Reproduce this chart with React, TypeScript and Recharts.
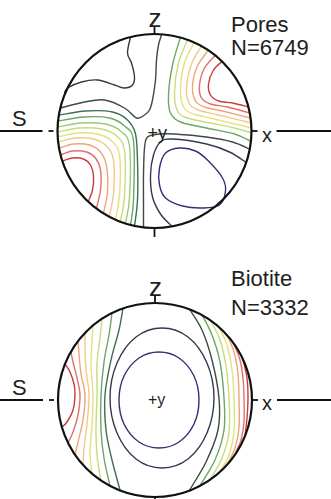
import React from 'react';
import { LineChart, Line, XAxis, YAxis, ReferenceDot, ReferenceLine } from 'recharts';

type Pt = [number, number];

// net coordinates: origin at the centre of each net, y up, primitive circle radius = 97
const NET_R = 97;

// ---- Pores, N=6749 ----
const poresLow: Pt[] = [[11, -22], [25, -17], [41, -20], [54, -30], [68, -47], [71, -60], [65, -74], [48, -77], [28, -75], [11, -67], [5, -54], [5, -37]];
const poresC: Pt[] = [[91, -31], [75, -21], [52, -13], [18, -8], [6, -11], [-1, -24], [-4, -44], [-2, -66], [6, -83], [17, -95]];
const poresD: Pt[] = [[95, -18], [78, -11], [52, -6], [20, -3], [5, -3], [-7, -6], [-10, -17], [-11, -44], [-11, -69], [-11, -96]];
const poresA: Pt[] = [[-24, 94], [-27, 78], [-23, 68], [-20, 54], [-22, 46], [-30, 43], [-40, 46], [-57, 51], [-73, 49], [-87, 43], [-90, 38]];
const poresB: Pt[] = [[-94, 23], [-70, 29], [-50, 31], [-30, 23], [-18, 13], [-10, 16], [-5, 21], [-2, 31], [1, 51], [2, 71], [4, 86], [7, 96]];
// left/bottom maximum
const poresL1: Pt[] = [[-92, -30], [-82, -27], [-71, -28], [-64, -34], [-61, -45], [-62, -59], [-66, -70]];
const poresL2: Pt[] = [[-94, -24], [-82, -20], [-68, -21], [-59, -27], [-54, -39], [-54, -59], [-58, -77]];
const poresL3: Pt[] = [[-95, -17], [-81, -13], [-65, -14], [-54, -21], [-48, -35], [-47, -61], [-51, -82]];
const poresL4: Pt[] = [[-96, -11], [-79, -7], [-61, -8], [-48, -15], [-41, -29], [-41, -62], [-45, -85]];
const poresL5: Pt[] = [[-97, -6], [-77, -2], [-57, -3], [-43, -10], [-35, -24], [-35, -64], [-39, -88]];
const poresL6: Pt[] = [[-97, -1], [-75, 3], [-53, 2], [-38, -5], [-30, -20], [-30, -65], [-34, -90]];
const poresL7: Pt[] = [[-97, 4], [-73, 8], [-49, 7], [-34, 0], [-25, -15], [-25, -67], [-29, -92]];
const poresL8: Pt[] = [[-96, 10], [-71, 14], [-45, 13], [-30, 5], [-21, -10], [-21, -69], [-24, -94]];
const poresL9: Pt[] = [[-95, 16], [-69, 20], [-42, 19], [-27, 11], [-19, -3], [-17, -30], [-17, -69], [-20, -95]];
// top/right maximum
const poresR1: Pt[] = [[68, 70], [59, 61], [54, 47], [56, 36], [64, 30], [78, 28], [94, 24]];
const poresR2: Pt[] = [[61, 76], [50, 63], [45, 46], [47, 33], [56, 27], [73, 24], [95, 18]];
const poresR3: Pt[] = [[54, 81], [43, 65], [38, 45], [41, 30], [50, 24], [68, 20], [96, 13]];
const poresR4: Pt[] = [[47, 85], [37, 67], [32, 43], [35, 27], [44, 21], [64, 16], [97, 8]];
const poresR5: Pt[] = [[40, 89], [30, 68], [26, 41], [29, 24], [39, 17], [60, 12], [97, 3]];
const poresR6: Pt[] = [[33, 91], [24, 68], [20, 39], [23, 20], [33, 13], [56, 8], [80, 3], [97, -2]];
const poresR7: Pt[] = [[26, 94], [18, 66], [14, 36], [16, 18], [26, 9], [52, 3], [80, -3], [96, -10]];

// ---- Biotite, N=3332 ----
const bioInner: Pt[] = [[44, 0], [39, 24], [24, 42], [4, 48], [-16, 42], [-31, 24], [-36, 0], [-31, -24], [-16, -42], [4, -48], [24, -42], [39, -24]];
const bioOuter: Pt[] = [[59, 2], [52, 37], [33, 63], [7, 72], [-19, 63], [-38, 37], [-45, 2], [-38, -33], [-19, -59], [7, -68], [33, -59], [52, -33]];
const bioL1: Pt[] = [[-90, 36], [-85, 28], [-81, 16], [-80, 5], [-82, -10], [-88, -22], [-93, -27]];
const bioL2: Pt[] = [[-84, 48], [-82, 38], [-78, 22], [-75, 5], [-77, -15], [-82, -32], [-87, -43]];
const bioL3: Pt[] = [[-77, 59], [-76, 46], [-74, 26], [-70, 5], [-72, -20], [-77, -42], [-80, -55]];
const bioL4: Pt[] = [[-70, 67], [-70, 52], [-69, 30], [-66, 5], [-68, -24], [-71, -48], [-72, -65]];
const bioL5: Pt[] = [[-62, 74], [-63, 58], [-64, 34], [-62, 5], [-63, -26], [-65, -52], [-63, -74]];
const bioL6: Pt[] = [[-53, 81], [-55, 62], [-58, 36], [-58, 5], [-59, -28], [-58, -55], [-54, -81]];
const bioL7: Pt[] = [[-43, 87], [-46, 65], [-51, 38], [-54, 5], [-54, -30], [-51, -58], [-45, -86]];
const bioL8: Pt[] = [[-32, 92], [-36, 70], [-44, 40], [-50, 5], [-49, -30], [-43, -60], [-35, -90]];
const bioR1: Pt[] = [[35, 90], [47, 70], [57, 40], [64, 2], [63, -30], [51, -62], [34, -91]];
const bioR2: Pt[] = [[47, 85], [57, 65], [65, 38], [69, 2], [69, -30], [60, -60], [44, -87]];
const bioR3: Pt[] = [[56, 79], [65, 60], [71, 34], [74, 2], [74, -32], [67, -58], [55, -80]];
const bioR4: Pt[] = [[64, 73], [72, 55], [77, 30], [79, 2], [79, -32], [74, -55], [64, -73]];
const bioR5: Pt[] = [[72, 65], [79, 48], [83, 26], [84, 2], [84, -28], [80, -48], [72, -65]];
const bioR6: Pt[] = [[79, 56], [85, 40], [88, 22], [89, 2], [89, -22], [86, -40], [80, -54]];
const bioR7: Pt[] = [[88, 40], [92, 22], [93, 2], [92, -18], [90, -36]];

// contour level colours, low (navy) to high (red)
const LEVEL_COLORS = ['#303278', '#35384f', '#3a3a3a', '#3e4a44', '#3f6e52', '#69a866', '#9acb72', '#c8dd7a', '#e4e27c', '#f2c98a', '#f0a477', '#e2706a', '#c93c3c'];

type Contour = { pts: Pt[]; level: number; closed?: boolean };

const poresContours: Contour[] = [
  { pts: poresLow, level: 0, closed: true },
  { pts: poresC, level: 1 },
  { pts: poresD, level: 3 },
  { pts: poresA, level: 2 },
  { pts: poresB, level: 3 },
  { pts: poresL9, level: 4 },
  { pts: poresL8, level: 5 },
  { pts: poresL7, level: 6 },
  { pts: poresL6, level: 7 },
  { pts: poresL5, level: 8 },
  { pts: poresL4, level: 9 },
  { pts: poresL3, level: 10 },
  { pts: poresL2, level: 11 },
  { pts: poresL1, level: 12 },
  { pts: poresR7, level: 5 },
  { pts: poresR6, level: 7 },
  { pts: poresR5, level: 8 },
  { pts: poresR4, level: 9 },
  { pts: poresR3, level: 10 },
  { pts: poresR2, level: 11 },
  { pts: poresR1, level: 12 },
];

const bioContours: Contour[] = [
  { pts: bioInner, level: 0, closed: true },
  { pts: bioOuter, level: 1, closed: true },
  { pts: bioL8, level: 4 },
  { pts: bioL7, level: 5 },
  { pts: bioL6, level: 7 },
  { pts: bioL5, level: 8 },
  { pts: bioL4, level: 9 },
  { pts: bioL3, level: 10 },
  { pts: bioL2, level: 11 },
  { pts: bioL1, level: 12 },
  { pts: bioR1, level: 3 },
  { pts: bioR2, level: 5 },
  { pts: bioR3, level: 7 },
  { pts: bioR4, level: 8 },
  { pts: bioR5, level: 10 },
  { pts: bioR6, level: 11 },
  { pts: bioR7, level: 12 },
];

// smooth curve through the points (Catmull-Rom), d3 curve factory style
const catmullRom = (closed: boolean) => (context: any) => {
  let pts: number[][] = [];
  return {
    areaStart() {},
    areaEnd() {},
    lineStart() {
      pts = [];
    },
    point(x: number, y: number) {
      pts.push([+x, +y]);
    },
    lineEnd() {
      const n = pts.length;
      if (!n) return;
      const at = (i: number) => (closed ? pts[(i + n) % n] : pts[Math.max(0, Math.min(n - 1, i))]);
      context.moveTo(pts[0][0], pts[0][1]);
      const segs = closed ? n : n - 1;
      for (let i = 0; i < segs; i++) {
        const p0 = at(i - 1);
        const p1 = at(i);
        const p2 = at(i + 1);
        const p3 = at(i + 2);
        context.bezierCurveTo(
          p1[0] + (p2[0] - p0[0]) / 6,
          p1[1] + (p2[1] - p0[1]) / 6,
          p2[0] - (p3[0] - p1[0]) / 6,
          p2[1] - (p3[1] - p1[1]) / 6,
          p2[0],
          p2[1],
        );
      }
      if (closed) context.closePath();
    },
  };
};
const openCurve = catmullRom(false);
const closedCurve = catmullRom(true);

const Text: React.FC<{ text: string; left: number; baseline: number; size: number }> = ({ text, left, baseline, size }) => (
  <div
    style={{
      position: 'absolute',
      left,
      top: baseline - size * 0.8465,
      fontSize: size,
      lineHeight: 1,
      whiteSpace: 'nowrap',
      color: '#1e1e1e',
    }}
  >
    {text}
  </div>
);

interface NetProps {
  contours: Contour[];
  title: string;
  count: string;
  height: number;
  centerX: number;
  centerY: number;
  titleBase: [number, number];
  yBase: number;
  ySize: number;
  xBase: number;
}

const Net: React.FC<NetProps> = ({ contours, title, count, height, centerX, centerY, titleBase, yBase, ySize, xBase }) => {
  const xDomain = [-centerX, 331 - centerX];
  const yDomain = [centerY - height, centerY];
  return (
    <div style={{ position: 'relative', width: 331, height }}>
      <LineChart width={331} height={height} margin={{ top: 0, right: 0, bottom: 0, left: 0 }}>
        <XAxis type="number" dataKey="x" domain={xDomain} hide allowDataOverflow />
        <YAxis type="number" dataKey="y" domain={yDomain} hide allowDataOverflow />
        {contours.map((c, i) => (
          <Line
            key={i}
            data={c.pts.map(([x, y]) => ({ x, y }))}
            dataKey="y"
            type={(c.closed ? closedCurve : openCurve) as any}
            stroke={LEVEL_COLORS[c.level]}
            strokeWidth={1.4}
            dot={false}
            activeDot={false}
            isAnimationActive={false}
          />
        ))}
        <ReferenceDot x={0} y={0} r={NET_R} fill="none" stroke="#111" strokeWidth={2.2} ifOverflow="visible" />
        <ReferenceLine segment={[{ x: -centerX, y: 0 }, { x: -112, y: 0 }]} stroke="#111" strokeWidth={2.2} ifOverflow="visible" />
        <ReferenceLine segment={[{ x: -106, y: 0 }, { x: -101, y: 0 }]} stroke="#111" strokeWidth={1.8} ifOverflow="visible" />
        <ReferenceLine segment={[{ x: 97, y: 0 }, { x: 103, y: 0 }]} stroke="#111" strokeWidth={1.8} ifOverflow="visible" />
        <ReferenceLine segment={[{ x: 122, y: 0 }, { x: 331 - centerX, y: 0 }]} stroke="#111" strokeWidth={2.2} ifOverflow="visible" />
        <ReferenceLine segment={[{ x: 0, y: 96 }, { x: 0, y: 104 }]} stroke="#111" strokeWidth={1.8} ifOverflow="visible" />
        <ReferenceLine segment={[{ x: 0, y: -96 }, { x: 0, y: -106 }]} stroke="#111" strokeWidth={1.8} ifOverflow="visible" />
      </LineChart>
      <Text text="S" left={12} baseline={centerY - 4} size={22} />
      <Text text="z" left={centerX - 6} baseline={centerY - 104} size={26} />
      <Text text="x" left={262} baseline={xBase} size={20} />
      <Text text="+y" left={centerX - 7} baseline={yBase} size={ySize} />
      <Text text={title} left={231} baseline={titleBase[0]} size={22} />
      <Text text={count} left={231} baseline={titleBase[1]} size={22} />
    </div>
  );
};

const App: React.FC = () => (
  <div
    style={{
      position: 'absolute',
      left: 0,
      top: 0,
      width: 331,
      height: 499,
      background: '#fff',
      overflow: 'hidden',
      fontFamily: '"Liberation Sans", Arial, sans-serif',
    }}
  >
    <Net
      contours={poresContours}
      title="Pores"
      count="N=6749"
      height={250}
      centerX={154.5}
      centerY={131}
      titleBase={[33, 56]}
      yBase={139}
      ySize={18}
      xBase={142}
    />
    <Net
      contours={bioContours}
      title="Biotite"
      count="N=3332"
      height={249}
      centerX={155}
      centerY={150}
      titleBase={[37, 66]}
      yBase={156}
      ySize={16}
      xBase={160}
    />
  </div>
);

export default App;
